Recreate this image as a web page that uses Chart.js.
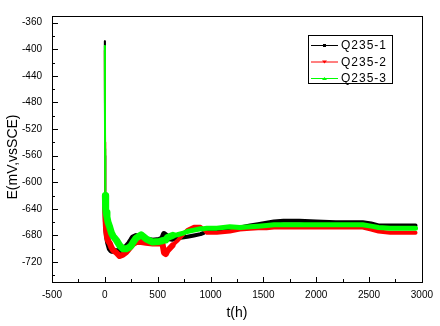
<!DOCTYPE html>
<html>
<head>
<meta charset="utf-8">
<script src="https://cdn.jsdelivr.net/npm/chart.js@4.4.0/dist/chart.umd.min.js"></script>
<style>
    body { margin: 0; background: #fff; }
    #wrap { width: 440px; height: 326px; }
</style>
</head>
<body>
<div id="wrap"><canvas id="ocpChart" width="440" height="326"></canvas></div>
<script>
// tempo (h) e potenciais
const hours = [0, 1, 2, 3, 5, 8, 12, 20, 30, 47, 62, 78, 109, 140, 171, 203, 230, 250, 265, 296,
    343, 390, 452, 515, 545, 560, 577, 593, 640, 686, 733, 780, 843, 905, 936, 967, 1060, 1183,
    1277, 1375, 1450, 1530, 1600, 1690, 1840, 2000, 2185, 2300, 2440, 2520, 2590, 2700, 2800, 2940];

const q235_1 = [-388, -480, -560, -600, -630, -650, -665, -680, -690, -700, -703, -703, -704, -703,
    -700, -697, -692, -687, -683, -681, -682, -686, -688, -687, -684, -678, -680, -684, -685, -684,
    -683, -682, -680, -678, -676, -673, -671, -669, -668, -665, -663, -661, -659, -658, -658, -659,
    -660, -660, -660, -662, -665, -665, -665, -665];

const q235_2 = [-402, -460, -540, -600, -640, -660, -672, -682, -688, -692, -698, -702, -706, -711,
    -709, -705, -700, -696, -693, -690, -690, -691, -692, -692, -692, -706, -708, -703, -695, -688,
    -680, -672, -667, -667, -671, -676, -676, -674, -671, -670, -669, -669, -668, -668, -668, -668,
    -668, -668, -668, -671, -674, -676, -676, -676];

const q235_3 = [-395, -470, -550, -590, -620, -640, -645, -652, -660, -668, -676, -681, -687, -695,
    -700, -700, -698, -695, -691, -684, -679, -685, -690, -689, -688, -687, -687, -683, -680, -679,
    -677, -674, -672, -670, -670, -669, -669, -667, -668, -667, -666, -665, -664, -664, -664, -664,
    -664, -664, -664, -666, -668, -669, -669, -669];

const seriesLabels = ['Q235-1', 'Q235-2', 'Q235-3'];
const seriesColors = ['#000000', '#ff0000', '#00ff00'];
const xTicks = [-500, 0, 500, 1000, 1500, 2000, 2500, 3000];
const yTicks = [-720, -680, -640, -600, -560, -520, -480, -440, -400, -360];

const FONT = "'Liberation Sans', Arial, sans-serif";

document.addEventListener('DOMContentLoaded', function() {
    initChart();
});

function toPoints(values) {
    return hours.map((t, i) => ({ x: t, y: values[i] }));
}

// moldura, ticks internos, títulos e legenda no estilo Origin
const originStyle = {
    id: 'originStyle',
    afterDatasetsDraw(chart) {
        const ctx = chart.ctx;
        const a = chart.chartArea;
        const xs = chart.scales.x;
        const ys = chart.scales.y;
        ctx.save();
        ctx.strokeStyle = '#000';
        ctx.lineWidth = 1;
        ctx.strokeRect(Math.round(a.left) + 0.5, Math.round(a.top) + 0.5,
            Math.round(a.right - a.left), Math.round(a.bottom - a.top));

        ctx.beginPath();
        xTicks.forEach((v, i) => {
            const px = Math.round(xs.getPixelForValue(v)) + 0.5;
            ctx.moveTo(px, a.bottom);
            ctx.lineTo(px, a.bottom - 5);
            if (i < xTicks.length - 1) {
                const mx = Math.round(xs.getPixelForValue(v + 250)) + 0.5;
                ctx.moveTo(mx, a.bottom);
                ctx.lineTo(mx, a.bottom - 3);
            }
        });
        yTicks.forEach(v => {
            const py = Math.round(ys.getPixelForValue(v)) + 0.5;
            ctx.moveTo(a.left, py);
            ctx.lineTo(a.left + 6, py);
            const my = Math.round(ys.getPixelForValue(v - 20)) + 0.5;
            ctx.moveTo(a.left, my);
            ctx.lineTo(a.left + 3, my);
        });
        ctx.stroke();

        // títulos dos eixos
        ctx.fillStyle = '#000';
        ctx.font = '14px ' + FONT;
        ctx.textAlign = 'center';
        ctx.textBaseline = 'middle';
        ctx.fillText('t(h)', (a.left + a.right) / 2, 313);
        ctx.translate(13, 157);
        ctx.rotate(-Math.PI / 2);
        ctx.fillText('E(mV,vsSCE)', 0, 0);
        ctx.restore();

        drawLegend(ctx);
    }
};

function drawLegend(ctx) {
    ctx.save();
    ctx.strokeStyle = '#000';
    ctx.lineWidth = 1;
    ctx.fillStyle = '#fff';
    ctx.fillRect(308, 35, 85, 49);
    ctx.strokeRect(308.5, 35.5, 84, 48);
    ctx.font = '12px ' + FONT;
    ctx.letterSpacing = '1px';
    ctx.textAlign = 'left';
    ctx.textBaseline = 'middle';
    const rows = [45, 61.5, 78];
    seriesLabels.forEach((label, i) => {
        const y = rows[i];
        ctx.strokeStyle = seriesColors[i];
        ctx.beginPath();
        ctx.moveTo(311, y + 0.5);
        ctx.lineTo(338, y + 0.5);
        ctx.stroke();
        ctx.fillStyle = seriesColors[i];
        ctx.beginPath();
        if (i === 0) {
            ctx.rect(323, y - 1, 3, 3);
        } else if (i === 1) {
            ctx.moveTo(322, y - 1); ctx.lineTo(327, y - 1); ctx.lineTo(324.5, y + 2);
        } else {
            ctx.moveTo(322, y + 2); ctx.lineTo(327, y + 2); ctx.lineTo(324.5, y - 1);
        }
        ctx.fill();
        ctx.fillStyle = '#000';
        ctx.fillText(label, 341, y + 1);
    });
    ctx.restore();
}

function initChart() {
    const ctx = document.getElementById('ocpChart').getContext('2d');
    const series = [q235_1, q235_2, q235_3];
    const widths = [4, 4, 5];
    const earlyWidths = [6, 6, 7];
    const orders = [2, 1, 0];

    new Chart(ctx, {
        type: 'scatter',
        data: {
            datasets: series.map((values, i) => ({
                label: seriesLabels[i],
                data: toPoints(values),
                showLine: true,
                borderColor: seriesColors[i],
                backgroundColor: seriesColors[i],
                borderWidth: widths[i],
                borderJoinStyle: 'round',
                borderCapStyle: 'round',
                pointRadius: 0,
                order: orders[i],
                // pico inicial fino, faixa ruidosa mais larga até ~600 h
                segment: {
                    borderWidth: c => {
                        if (c.p0.parsed.x < 5) return 2;
                        if (c.p0.parsed.x < 600) return earlyWidths[i];
                        return widths[i];
                    }
                }
            }))
        },
        options: {
            responsive: false,
            animation: false,
            devicePixelRatio: 1,
            layout: { padding: { left: 0, top: 7, right: 13, bottom: 0 } },
            plugins: {
                legend: { display: false },
                tooltip: { enabled: false }
            },
            scales: {
                x: {
                    type: 'linear',
                    min: -500,
                    max: 3000,
                    afterBuildTicks: scale => { scale.ticks = xTicks.map(v => ({ value: v })); },
                    afterFit: scale => { scale.height = 44; },
                    grid: { display: false, drawTicks: false },
                    border: { display: false },
                    ticks: {
                        color: '#000',
                        font: { family: FONT, size: 10 },
                        padding: 7,
                        maxRotation: 0,
                        callback: v => String(v)
                    }
                },
                y: {
                    type: 'linear',
                    min: -750,
                    max: -350,
                    afterBuildTicks: scale => { scale.ticks = yTicks.map(v => ({ value: v })); },
                    afterFit: scale => { scale.width = 52; },
                    grid: { display: false, drawTicks: false },
                    border: { display: false },
                    ticks: {
                        color: '#000',
                        font: { family: FONT, size: 10 },
                        padding: 10,
                        callback: v => String(v)
                    }
                }
            }
        },
        plugins: [originStyle]
    });
}
</script>
</body>
</html>
